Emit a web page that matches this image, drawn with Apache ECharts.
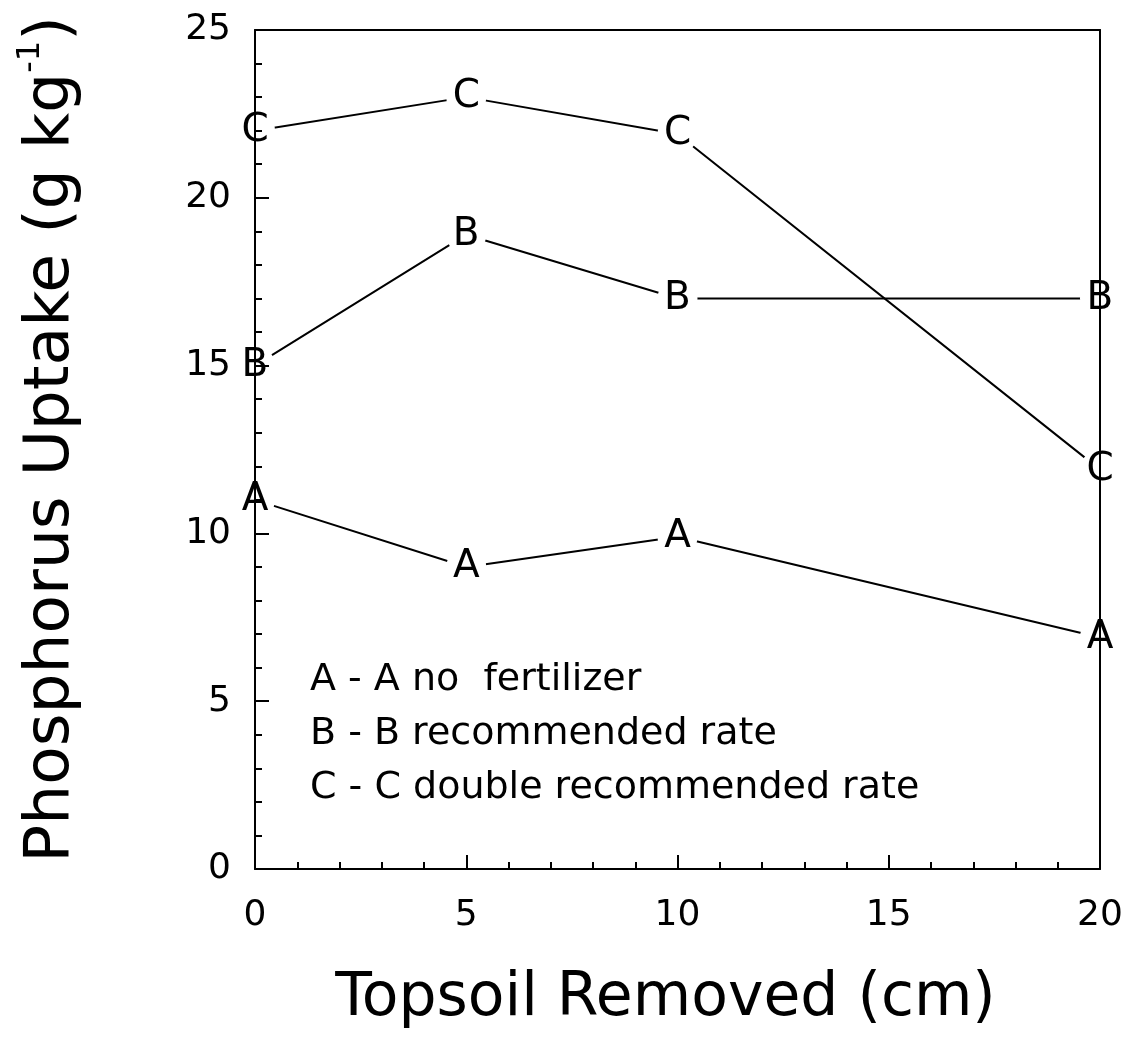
<!DOCTYPE html>
<html>
<head>
<meta charset="utf-8">
<script src="https://cdn.jsdelivr.net/npm/echarts@6/dist/echarts.min.js"></script>
<style>
html,body{margin:0;padding:0;background:#fff;}
#chart{width:1130px;height:1051px;}
</style>
</head>
<body>
<div id="chart"></div>
<script>
// Data
var topsoilRemoved = [0, 5, 10, 20];           // cm
var noFertilizer    = [11.0, 9.0, 9.9, 6.9];   // A
var recommendedRate = [15.0, 18.9, 17.0, 17.0]; // B
var doubleRate      = [22.0, 23.0, 21.9, 11.9]; // C
var seriesNames   = ['no fertilizer', 'recommended rate', 'double recommended rate'];
var seriesLetters = ['A', 'B', 'C'];
var seriesValues  = [noFertilizer, recommendedRate, doubleRate];
var xTicks = [0, 5, 10, 15, 20];
var yTicks = [0, 5, 10, 15, 20, 25];

var FONT = 'DejaVu Sans';
var chart = echarts.init(document.getElementById('chart'), null, {renderer: 'canvas'});

function pairs(vals) {
  return topsoilRemoved.map(function (x, i) { return [x, vals[i]]; });
}

var series = seriesValues.map(function (vals, k) {
  return {
    name: seriesNames[k],
    type: 'line',
    data: pairs(vals),
    symbol: 'circle',
    symbolSize: 40,
    z: 2,
    itemStyle: {color: '#ffffff', borderWidth: 0},
    lineStyle: {color: '#000', width: 2},
    label: {
      show: true,
      position: 'inside',
      formatter: seriesLetters[k],
      fontFamily: FONT,
      fontSize: 39,
      color: '#000'
    },
    emphasis: {disabled: true},
    animation: false
  };
});

var axisLine = {show: true, onZero: false, lineStyle: {color: '#000', width: 2}};

chart.setOption({
  backgroundColor: '#fff',
  animation: false,
  grid: {left: 255, right: 30, top: 30, bottom: 182},
  legend: {
    orient: 'vertical',
    left: 300,
    top: 656,
    icon: 'none',
    itemWidth: 0,
    itemHeight: 0,
    itemGap: 16,
    selectedMode: false,
    data: seriesNames,
    formatter: function (name) {
      var i = seriesNames.indexOf(name);
      var L = seriesLetters[i];
      return L + ' - ' + L + ' ' + (i === 0 ? name.replace(' ', '  ') : name);
    },
    textStyle: {fontFamily: FONT, fontSize: 38, color: '#000'}
  },
  xAxis: [{
    type: 'value',
    position: 'bottom',
    min: xTicks[0],
    max: xTicks[xTicks.length - 1],
    interval: 5,
    z: 5,
    axisLine: axisLine,
    axisTick: {show: true, inside: true, length: 14, lineStyle: {color: '#000', width: 2}},
    minorTick: {show: true, splitNumber: 5, length: 7, lineStyle: {color: '#000', width: 2}},
    splitLine: {show: false},
    minorSplitLine: {show: false},
    axisLabel: {fontFamily: FONT, fontSize: 36, color: '#000', margin: 29},
    name: 'Topsoil Removed (cm)',
    nameLocation: 'middle',
    nameGap: 100,
    nameTextStyle: {fontFamily: FONT, fontSize: 60, color: '#000', padding: [0, 24, 0, 0]}
  }, {
    type: 'value',
    position: 'top',
    min: xTicks[0],
    max: xTicks[xTicks.length - 1],
    z: 5,
    axisLine: axisLine,
    axisTick: {show: false},
    axisLabel: {show: false},
    splitLine: {show: false}
  }],
  yAxis: [{
    type: 'value',
    position: 'left',
    min: yTicks[0],
    max: yTicks[yTicks.length - 1],
    interval: 5,
    z: 5,
    axisLine: axisLine,
    axisTick: {show: true, inside: true, length: 14, lineStyle: {color: '#000', width: 2}},
    minorTick: {show: true, splitNumber: 5, length: 7, lineStyle: {color: '#000', width: 2}},
    splitLine: {show: false},
    minorSplitLine: {show: false},
    axisLabel: {fontFamily: FONT, fontSize: 36, color: '#000', margin: 24},
    name: 'Phosphorus Uptake (g kg{s|-1})',
    nameLocation: 'middle',
    nameRotate: 90,
    nameGap: 166,
    nameTextStyle: {
      fontFamily: FONT, fontSize: 63, color: '#000', lineHeight: 74,
      padding: [0, 0, 0, 20],
      rich: {
        s: {fontFamily: FONT, fontSize: 32, color: '#000', verticalAlign: 'top', lineHeight: 74, padding: [0, 0, 30, 0]}
      }
    }
  }, {
    type: 'value',
    position: 'right',
    min: yTicks[0],
    max: yTicks[yTicks.length - 1],
    z: 5,
    axisLine: axisLine,
    axisTick: {show: false},
    axisLabel: {show: false},
    splitLine: {show: false}
  }],
  series: series
});
</script>
</body>
</html>
